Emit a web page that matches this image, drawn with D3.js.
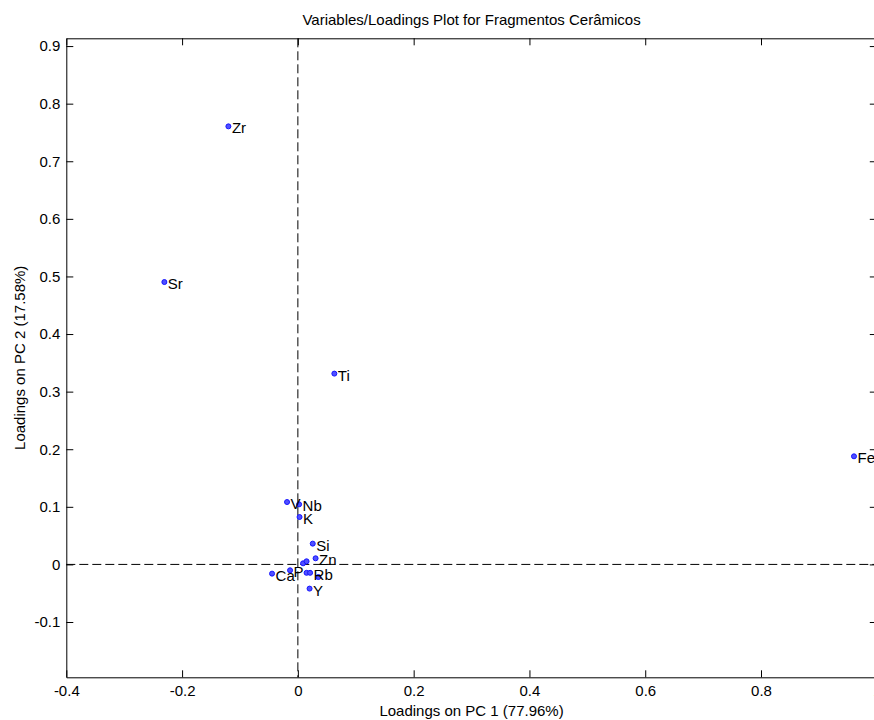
<!DOCTYPE html>
<html>
<head>
<meta charset="utf-8">
<script src="https://cdn.jsdelivr.net/npm/d3@7"></script>
<style>
  html, body { margin: 0; padding: 0; background: #fff; }
  svg { display: block; overflow: hidden; }
  text { font-family: "Liberation Sans", Arial, Helvetica, sans-serif; fill: #000; }
</style>
</head>
<body>
<svg id="chart" width="874" height="720"></svg>
<script>
// ---- data ----
const names = ["Zr", "Sr", "Ti", "Fe", "V", "Nb", "K", "Si", "Zn", "", "", "Ca", "P", "", "Rb", "", "Y"];
const pc1 = [-0.120, -0.2306, 0.063, 0.9606, -0.0187, 0.0021, 0.0029, 0.0257, 0.0306, 0.009, 0.015, -0.0446, -0.0135, 0.015, 0.0211, 0.0354, 0.0202];
const pc2 = [0.7606, 0.4903, 0.3313, 0.1877, 0.1083, 0.1043, 0.0823, 0.0361, 0.0106, 0.0019, 0.0054, -0.016, -0.0102, -0.0146, -0.0146, -0.0219, -0.042];
const xTicks = [-0.4, -0.2, 0, 0.2, 0.4, 0.6, 0.8, 1];
const yTicks = [-0.1, 0, 0.1, 0.2, 0.3, 0.4, 0.5, 0.6, 0.7, 0.8, 0.9];
const xDomain = [-0.4, 1.0];
const yDomain = [-0.196, 0.9135];
const title = "Variables/Loadings Plot for Fragmentos Cerâmicos";
const xLabel = "Loadings on PC 1 (77.96%)";
const yLabel = "Loadings on PC 2 (17.58%)";

// ---- layout ----
const L = 66.3, R = 876.8, T = 38.3, B = 677.3;
const FS = 15;
const svg = d3.select("#chart");

const x = d3.scaleLinear().domain(xDomain).range([L, R]);
const y = d3.scaleLinear().domain(yDomain).range([B, T]);
const fmt = d => (Math.abs(d) < 1e-9 ? "0" : String(+d.toFixed(1)));

// zero reference lines (dashed)
svg.append("line")
  .attr("x1", x(0)).attr("x2", x(0)).attr("y1", T).attr("y2", B)
  .attr("stroke", "#000").attr("stroke-width", 1).attr("stroke-dasharray", "9,4");
svg.append("line")
  .attr("x1", L).attr("x2", R).attr("y1", y(0)).attr("y2", y(0))
  .attr("stroke", "#000").attr("stroke-width", 1).attr("stroke-dasharray", "9,4");

function styleAxis(g) {
  g.selectAll("path.domain").attr("stroke", "#000").attr("stroke-width", 1);
  g.selectAll(".tick line").attr("stroke", "#000").attr("stroke-width", 1);
  g.selectAll("text").attr("font-size", FS).attr("font-family", null).attr("fill", "#000");
}

// bottom axis
svg.append("g").attr("transform", `translate(0,${B})`)
  .call(d3.axisBottom(x).tickValues(xTicks).tickFormat(fmt).tickSizeInner(-7).tickSizeOuter(0).tickPadding(8))
  .call(styleAxis);
// top axis
svg.append("g").attr("transform", `translate(0,${T})`)
  .call(d3.axisTop(x).tickValues(xTicks).tickFormat("").tickSizeInner(-7).tickSizeOuter(0))
  .call(styleAxis);
// left axis
svg.append("g").attr("transform", `translate(${L},0)`)
  .call(d3.axisLeft(y).tickValues(yTicks).tickFormat(fmt).tickSizeInner(-7).tickSizeOuter(0).tickPadding(6))
  .call(styleAxis);
// right axis
svg.append("g").attr("transform", `translate(${R},0)`)
  .call(d3.axisRight(y).tickValues(yTicks).tickFormat("").tickSizeInner(-7).tickSizeOuter(0))
  .call(styleAxis);

// points
const data = names.map((n, i) => ({ name: n, px: pc1[i], py: pc2[i] }));
svg.append("g").selectAll("circle").data(data).join("circle")
  .attr("cx", d => x(d.px)).attr("cy", d => y(d.py)).attr("r", 2.5)
  .attr("fill", "#5050ff").attr("stroke", "#1515ff").attr("stroke-width", 1);

// point labels
svg.append("g").selectAll("text").data(data.filter(d => d.name)).join("text")
  .attr("x", d => x(d.px) + 3.5).attr("y", d => y(d.py) + 7)
  .attr("font-size", FS).text(d => d.name);

// title and axis labels
svg.append("text").attr("x", (L + R) / 2).attr("y", 25).attr("text-anchor", "middle")
  .attr("font-size", FS).text(title);
svg.append("text").attr("x", (L + R) / 2).attr("y", 716).attr("text-anchor", "middle")
  .attr("font-size", FS).text(xLabel);
svg.append("text").attr("transform", `translate(25,${(T + B) / 2}) rotate(-90)`)
  .attr("text-anchor", "middle").attr("font-size", FS).text(yLabel);
</script>
</body>
</html>
